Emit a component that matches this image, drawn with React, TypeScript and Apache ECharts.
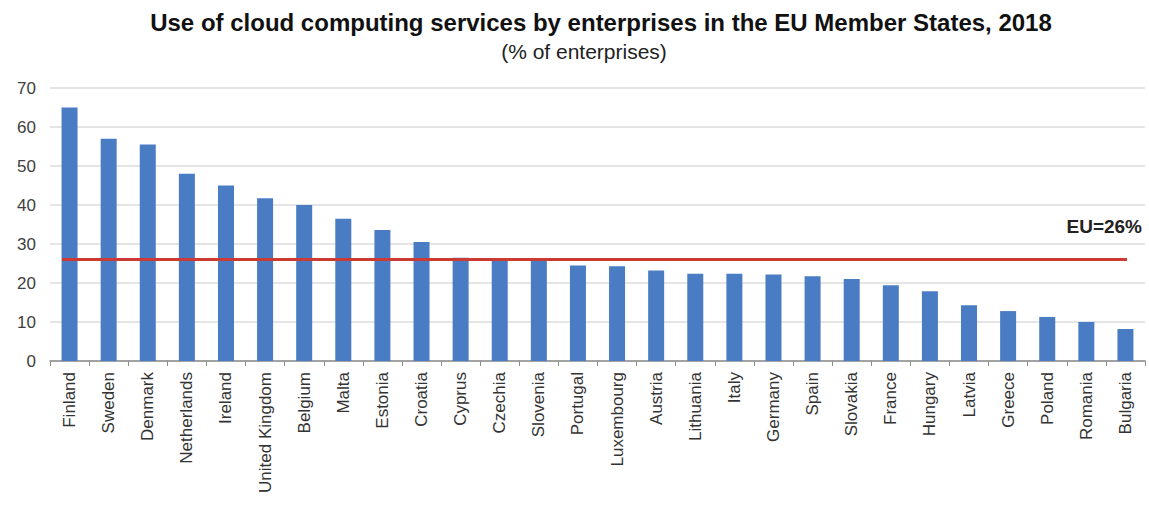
import React, { useEffect, useRef } from "react";
import * as echarts from "echarts";

const countries = [
  "Finland", "Sweden", "Denmark", "Netherlands", "Ireland", "United Kingdom", "Belgium",
  "Malta", "Estonia", "Croatia", "Cyprus", "Czechia", "Slovenia", "Portugal", "Luxembourg",
  "Austria", "Lithuania", "Italy", "Germany", "Spain", "Slovakia", "France", "Hungary",
  "Latvia", "Greece", "Poland", "Romania", "Bulgaria",
];
const shares = [
  65, 57, 55.5, 48, 45, 41.7, 40, 36.5, 33.6, 30.5, 26.5, 25.8, 25.8, 24.5, 24.3,
  23.2, 22.4, 22.4, 22.2, 21.7, 21, 19.4, 17.9, 14.3, 12.8, 11.3, 10, 8.2,
];
const euAverage = 26;
const euLabel = "EU=26%";
const titleText = "Use of cloud computing services by enterprises in the EU Member States, 2018";
const subtitleText = "(% of enterprises)";

const FONT = "Liberation Sans, Arial, sans-serif";

export default function App() {
  const ref = useRef<HTMLDivElement>(null);
  useEffect(() => {
    if (!ref.current) return;
    const chart = echarts.init(ref.current, null, { renderer: "svg" });
    chart.setOption({
      animation: false,
      backgroundColor: "#ffffff",
      title: [
        {
          text: titleText,
          left: 596,
          textAlign: "center",
          top: 5,
          textStyle: { fontFamily: FONT, fontWeight: "bold", fontSize: 24, color: "#111" },
        },
        {
          text: subtitleText,
          left: 579,
          textAlign: "center",
          top: 36,
          textStyle: { fontFamily: FONT, fontWeight: "normal", fontSize: 21, color: "#222" },
        },
      ],
      grid: { left: 50, right: 4, top: 88, bottom: 150, containLabel: false },
      xAxis: {
        type: "category",
        data: countries,
        axisLine: { lineStyle: { color: "#8c8c8c", width: 1.5 } },
        axisTick: { show: true, alignWithLabel: false, length: 5, lineStyle: { color: "#8c8c8c" } },
        axisLabel: {
          rotate: 90,
          interval: 0,
          margin: 11,
          fontFamily: FONT,
          fontSize: 17,
          color: "#333",
        },
      },
      yAxis: {
        type: "value",
        min: 0,
        max: 70,
        interval: 10,
        axisLine: { show: false },
        axisTick: { show: false },
        axisLabel: { fontFamily: FONT, fontSize: 17, color: "#404040", margin: 14 },
        splitLine: { lineStyle: { color: "#dcdcdc", width: 1.5 } },
      },
      series: [
        {
          type: "bar",
          data: shares,
          barWidth: 16,
          itemStyle: { color: "#4a7cc4" },
          markLine: {
            symbol: "none",
            silent: true,
            label: { show: false },
            lineStyle: { color: "#cc3b33", width: 3, type: "solid" },
            data: [[{ coord: [0, euAverage], x: 62 }, { coord: [countries.length - 1, euAverage], x: 1127 }]],
          },
        },
      ],
      graphic: [
        {
          type: "text",
          right: 7,
          top: 217,
          style: {
            text: euLabel,
            font: "bold 19px 'Liberation Sans', Arial, sans-serif",
            fill: "#222",
          },
        },
      ],
    });
    return () => chart.dispose();
  }, []);
  return <div ref={ref} style={{ width: 1149, height: 511, position: "absolute", left: 0, top: 0 }} />;
}
